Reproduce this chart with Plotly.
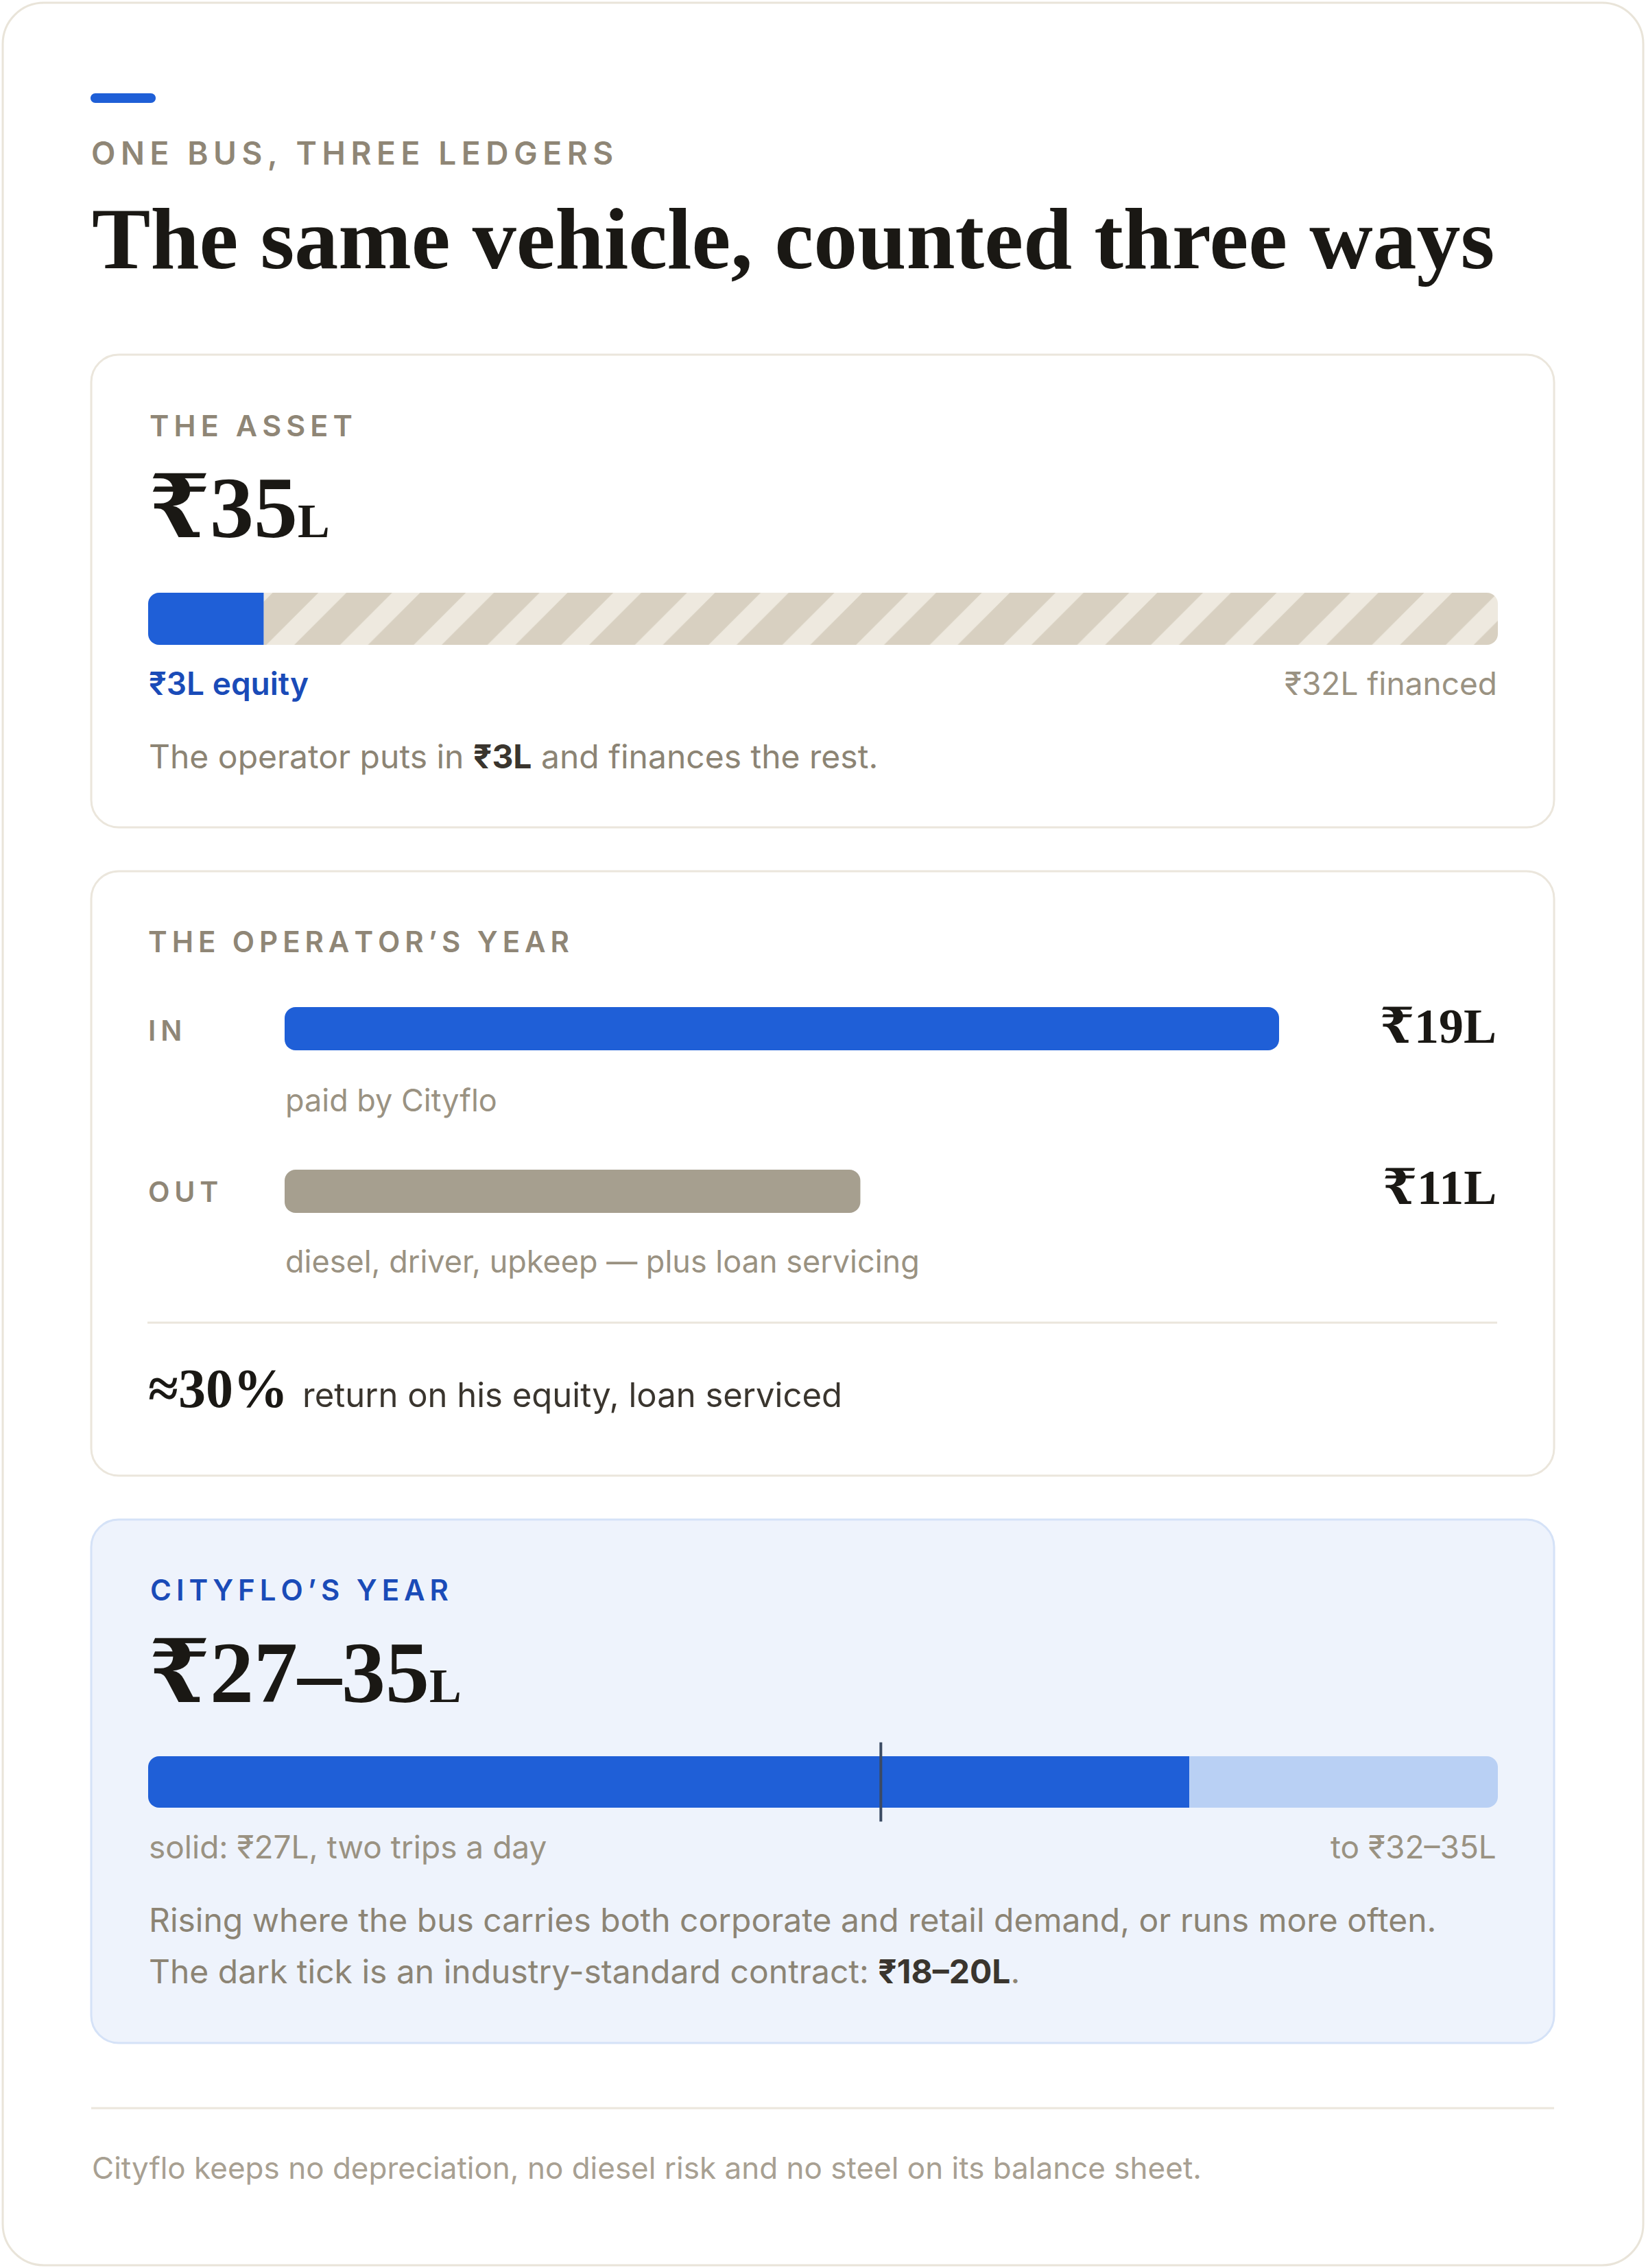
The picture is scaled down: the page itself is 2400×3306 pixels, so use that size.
"""One bus, three ledgers: asset / operator / Cityflo card"""
import plotly.graph_objects as go

W, H = 2400, 3306

# ---- data (₹ lakh) ----
ASSET_TOTAL = 35
EQUITY = 3
FINANCED = 32
FLOW_LABELS = ["IN", "OUT"]
FLOW_VALUES = [19, 11]
FLOW_NOTES = ["paid by Cityflo", "diesel, driver, upkeep — plus loan servicing"]
RETURN_PCT = 30
CITYFLO_SOLID = 27
CITYFLO_TOP = 35
CITYFLO_UPPER = [32, 35]
CONTRACT = [18, 20]

# ---- styles ----
SANS = "Inter, Noto Sans, sans-serif"
SERIF = "Liberation Serif, DejaVu Serif, serif"
BLUE = "#1f5fd7"
BLUE_TEXT = "#1a4bb8"
LIGHT_BLUE = "#b9d0f4"
OUT_GREY = "#a69f8f"
INK = "#1a1814"
DARK = "#3a352e"
MUTED = "#8f8676"
BODY = "#8c8474"
CAPTION = "#9a9282"
FOOT = "#a8a092"
BORDER = "#ebe6dc"
STRIPE_BG = "#eee9df"
STRIPE_FG = "#d8d0c1"
TICK = "#3b4a63"


def X(x):
    return x / W


def Y(y):
    return 1 - y / H


def rrect(x0, y0, x1, y1, r, fill, line, lw=3, layer="below"):
    k = 0.5523 * r
    p = (f"M{X(x0+r)},{Y(y0)} L{X(x1-r)},{Y(y0)} "
         f"C{X(x1-r+k)},{Y(y0)} {X(x1)},{Y(y0+r-k)} {X(x1)},{Y(y0+r)} "
         f"L{X(x1)},{Y(y1-r)} "
         f"C{X(x1)},{Y(y1-r+k)} {X(x1-r+k)},{Y(y1)} {X(x1-r)},{Y(y1)} "
         f"L{X(x0+r)},{Y(y1)} "
         f"C{X(x0+r-k)},{Y(y1)} {X(x0)},{Y(y1-r+k)} {X(x0)},{Y(y1-r)} "
         f"L{X(x0)},{Y(y0+r)} "
         f"C{X(x0)},{Y(y0+r-k)} {X(x0+r-k)},{Y(y0)} {X(x0+r)},{Y(y0)} Z")
    return dict(type="path", path=p, xref="paper", yref="paper", fillcolor=fill,
                line=dict(color=line, width=lw), layer=layer)


def hline(x0, x1, y, color=BORDER, lw=3):
    return dict(type="line", xref="paper", yref="paper", x0=X(x0), x1=X(x1),
                y0=Y(y), y1=Y(y), line=dict(color=color, width=lw), layer="below")


annotations = []


def label(x, base, text, size, color, family=SANS, weight=400, anchor="left"):
    k = 0.363 if family == SANS else 0.34
    annotations.append(dict(
        xref="paper", yref="paper", x=X(x), y=Y(base - k * size),
        xanchor=anchor, yanchor="middle", text=text, showarrow=False, borderpad=0,
        font=dict(family=family, size=size, color=color, weight=weight)))


def spaced(s):
    return "\u2009".join(s)


def lakh(v):
    return f"₹{v}L"


shapes = [
    rrect(4, 4, 2396, 3302, 60, "white", "#e9e4d9"),
    rrect(132, 136, 227, 150, 7, BLUE, BLUE, lw=0),
    rrect(133, 517, 2266, 1206, 40, "white", BORDER),
    rrect(133, 1270, 2266, 2151, 40, "white", BORDER),
    rrect(133, 2215, 2266, 2978, 40, "#eef3fc", "#d5e2f7"),
    hline(215, 2183, 1928),
    hline(133, 2266, 3073),
]

fig = go.Figure()

# card 1: equity to the left of the split, financed to the right
fig.add_trace(go.Bar(orientation="h", y=[0], x=[-EQUITY], width=1,
                     marker=dict(color=BLUE, cornerradius=16, line=dict(width=0)),
                     xaxis="x", yaxis="y", hoverinfo="skip"))
fig.add_trace(go.Bar(orientation="h", y=[0], x=[FINANCED], width=1,
                     marker=dict(color=STRIPE_BG, cornerradius=16, line=dict(width=0),
                                 pattern=dict(shape="/", fgcolor=STRIPE_FG, bgcolor=STRIPE_BG,
                                              size=76, solidity=0.62, fillmode="replace")),
                     xaxis="x", yaxis="y", hoverinfo="skip"))

# card 2: operator in / out
bw = 63 / 237
rows = list(range(len(FLOW_VALUES)))
fig.add_trace(go.Bar(orientation="h", y=rows, x=FLOW_VALUES, base=[0] * len(rows), width=bw,
                     marker=dict(color=[BLUE, OUT_GREY], cornerradius=16, line=dict(width=0)),
                     xaxis="x2", yaxis="y2", hoverinfo="skip"))

# card 3: Cityflo range (solid part left of the split, upside to the right)
upside = CITYFLO_TOP - CITYFLO_SOLID
fig.add_trace(go.Bar(orientation="h", y=[0], x=[-CITYFLO_SOLID], width=1,
                     marker=dict(color=BLUE, cornerradius=16, line=dict(width=0)),
                     xaxis="x3", yaxis="y3", hoverinfo="skip"))
fig.add_trace(go.Bar(orientation="h", y=[0], x=[upside], width=1,
                     marker=dict(color=LIGHT_BLUE, cornerradius=16, line=dict(width=0)),
                     xaxis="x3", yaxis="y3", hoverinfo="skip"))
tick_x = sum(CONTRACT) / 2 - CITYFLO_SOLID
shapes.append(dict(type="line", xref="x3", yref="y3 domain", x0=tick_x, x1=tick_x,
                   y0=-0.27, y1=1.27, line=dict(color=TICK, width=4), layer="above"))

# ---- text ----
label(132, 240, spaced("ONE BUS, THREE LEDGERS"), 46, MUTED, weight=600)
label(133, 392, "The same vehicle, counted three ways", 128, INK, family=SERIF, weight=700)

label(217, 636, spaced("THE ASSET"), 43, MUTED, weight=600)
label(216, 784, f"₹{ASSET_TOTAL}<span style='font-size:70px'>L</span>", 128, INK,
      family=SERIF, weight=700)
label(216, 1013, f"{lakh(EQUITY)} equity", 46, BLUE_TEXT, weight=600)
label(2184, 1013, f"{lakh(FINANCED)} financed", 46, CAPTION, anchor="right")
label(216, 1120, f"The operator puts in <span style='color:{DARK}'><b>{lakh(EQUITY)}</b></span>"
      " and finances the rest.", 48, BODY)

label(215, 1388, spaced("THE OPERATOR’S YEAR"), 42, MUTED, weight=600)
for i, (lab, val, note) in enumerate(zip(FLOW_LABELS, FLOW_VALUES, FLOW_NOTES)):
    base = [1517, 1752][i]
    label(215, base, spaced(lab), 41, MUTED, weight=600)
    label(2183, base + 3, lakh(val), 72, INK, family=SERIF, weight=700, anchor="right")
    label(415, base + 103, note, 45, CAPTION)
label(215, 2051, f"≈{RETURN_PCT}%", 80, INK, family=SERIF, weight=700)
label(440, 2051, "return on his equity, loan serviced", 49, DARK)

label(218, 2333, spaced("CITYFLO’S YEAR"), 42, BLUE_TEXT, weight=600)
label(216, 2482, f"₹{CITYFLO_SOLID}–{CITYFLO_TOP}<span style='font-size:70px'>L</span>", 128, INK,
      family=SERIF, weight=700)
label(216, 2709, f"solid: {lakh(CITYFLO_SOLID)}, two trips a day", 46, CAPTION)
label(2183, 2709, f"to ₹{CITYFLO_UPPER[0]}–{CITYFLO_UPPER[1]}L", 46, CAPTION, anchor="right")
label(216, 2816, "Rising where the bus carries both corporate and retail demand, or runs more often.",
      48, BODY)
label(216, 2891, "The dark tick is an industry-standard contract: "
      f"<span style='color:{DARK}'><b>₹{CONTRACT[0]}–{CONTRACT[1]}L</b></span>.", 48, BODY)

label(133, 3176, "Cityflo keeps no depreciation, no diesel risk and no steel on its balance sheet.",
      44, FOOT)

ax = dict(visible=False, fixedrange=True, showgrid=False, zeroline=False)
fig.update_layout(
    width=W, height=H, autosize=False,
    margin=dict(l=0, r=0, t=0, b=0, pad=0),
    paper_bgcolor="white", plot_bgcolor="rgba(0,0,0,0)",
    barmode="overlay", showlegend=False,
    xaxis=dict(ax, domain=[X(216), X(2184)], range=[-EQUITY, FINANCED], anchor="y"),
    yaxis=dict(ax, domain=[Y(940), Y(864)], range=[-0.5, 0.5], anchor="x"),
    xaxis2=dict(ax, domain=[X(415), X(1865)], range=[0, max(FLOW_VALUES)], anchor="y2"),
    yaxis2=dict(ax, domain=[Y(1768), Y(1468)], range=[len(rows) - 1 + bw / 2, -bw / 2], anchor="x2"),
    xaxis3=dict(ax, domain=[X(216), X(2184)], range=[-CITYFLO_SOLID, upside], anchor="y3"),
    yaxis3=dict(ax, domain=[Y(2635), Y(2560)], range=[-0.5, 0.5], anchor="x3"),
    shapes=shapes, annotations=annotations,
)

fig.write_html("out.html", config={"displayModeBar": False},
               post_script="document.body.style.margin='0';")
